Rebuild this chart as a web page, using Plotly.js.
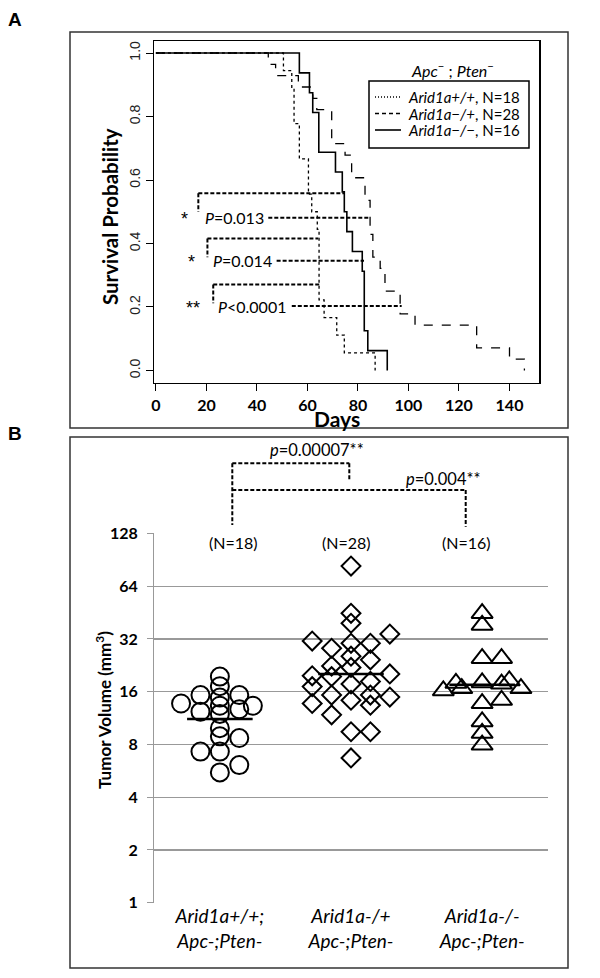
<!DOCTYPE html>
<html><head><meta charset="utf-8">
<script src="https://cdn.plot.ly/plotly-3.0.1.min.js"></script>
<style>html,body{margin:0;padding:0;background:#fff}</style>
</head><body><div id="chart" style="width:600px;height:978px"></div>
<script>
// ---------- Panel A: Kaplan-Meier survival (step data) ----------
const wtDays  = [0, 50.5, 53.8, 54.7, 56.8, 60.4, 61.7, 63.9, 64.6, 66.6, 71.6, 74.6, 86.8];
const wtSurv  = [1, 0.9444, 0.8889, 0.7778, 0.6667, 0.5556, 0.5, 0.4444, 0.2222, 0.1667, 0.1111, 0.0556, 0];
const hetDays = [0, 44.5, 47.4, 56.4, 62.1, 63.7, 69.6, 74.9, 77.5, 82.8, 84.8, 85.9, 88.8, 90.7, 96.7, 102.6, 127, 140, 145.9];
const hetSurv = [1, 0.9643, 0.9286, 0.8929, 0.8571, 0.8214, 0.7143, 0.6786, 0.6071, 0.5357, 0.4286, 0.3571, 0.3214, 0.25, 0.1786, 0.1429, 0.0714, 0.0357, 0];
const homDays = [0, 56.8, 60.8, 62.1, 64.5, 71.1, 73.8, 74.6, 75.6, 77.8, 81.7, 82.5, 83.9, 91.6];
const homSurv = [1, 0.9375, 0.875, 0.8125, 0.6875, 0.625, 0.5625, 0.5, 0.4375, 0.375, 0.3125, 0.125, 0.0625, 0];
const kmNames = ['<i>Arid1a+/+</i>, N=18', '<i>Arid1a\u2212/+</i>, N=28', '<i>Arid1a\u2212/\u2212</i>, N=16'];
const legendTitle = '<i>Apc</i><sup>\u2212</sup> ; <i>Pten</i><sup>\u2212</sup>';
const daysTicks = [0, 20, 40, 60, 80, 100, 120, 140];
const probTicks = [0, 0.2, 0.4, 0.6, 0.8, 1.0];
const probTickText = ['0.0', '0.2', '0.4', '0.6', '0.8', '1.0'];
const pTextsA = ['<i>P</i>=0.013', '<i>P</i>=0.014', '<i>P</i>&lt;0.0001'];
const starsA = ['*', '*', '**'];

// ---------- Panel B: tumour volume ----------
const groupLabels = ['<i>Arid1a+/+;</i><br><i>Apc-;Pten-</i>', '<i>Arid1a-/+</i><br><i>Apc-;Pten-</i>', '<i>Arid1a-/-</i><br><i>Apc-;Pten-</i>'];
const groupN = ['(N=18)', '(N=28)', '(N=16)'];
const wtVol  = [13.7, 15.3, 12.3, 7.28, 19.5, 17.2, 14.8, 13.3, 11.95, 9.9, 8.9, 7.28, 5.54, 15.3, 12.7, 8.7, 6.1, 13.3];
const wtLane = [-2, -1, -1, -1, 0, 0, 0, 0, 0, 0, 0, 0, 0, 1, 1, 1, 1, 1.7];
const hetVol  = [83.3, 44.8, 39.3, 31.1, 19.7, 17.1, 13.7, 28.3, 22.4, 19.5, 15.3, 11.8, 30.2, 25.5, 22.0, 17.7, 14.3, 9.45, 6.7, 30.2, 24.3, 18.3, 15.3, 13.4, 9.45, 34.1, 20.2, 14.9];
const hetLane = [0, 0, 0, -2, -2, -2, -2, -1, -1, -1, -1, -1, 0, 0, 0, 0, 0, 0, 0, 1, 1, 1, 1, 1, 1, 2, 2, 2];
const homVol  = [44.8, 38.4, 24.8, 24.8, 16.2, 17.9, 16.7, 18.0, 17.7, 18.5, 16.7, 13.7, 14.3, 10.8, 9.27, 7.95];
const homLane = [0, 0, 0, 1, -2, -1.35, -1.05, 0, 1, 1.4, 2, 0, 1, 0, 0, 0];
const volTicks = [1, 2, 4, 8, 16, 32, 64, 128];
const pTextsB = ['<i>p</i>=0.00007**', '<i>p</i>=0.004**'];

// ---------- helpers (layout only) ----------
const W = 600, H = 978;
const px = x => x / W, py = y => 1 - y / H;
const laneW = 0.148;
const geoMean = a => Math.pow(2, a.reduce((s, v) => s + Math.log2(v), 0) / a.length);

const traces = [];
const kmStyles = [['dot', 1.3], ['dash', 1.3], ['solid', 1.6]];
[[wtDays, wtSurv], [hetDays, hetSurv], [homDays, homSurv]].forEach((s, i) => traces.push({
  x: s[0], y: s[1], xaxis: 'x', yaxis: 'y', mode: 'lines', name: kmNames[i], showlegend: false,
  line: {shape: 'hv', dash: kmStyles[i][0], width: kmStyles[i][1], color: '#000'}
}));

const groupsB = [[wtVol, wtLane, 'circle', 18], [hetVol, hetLane, 'diamond', 14.5], [homVol, homLane, 'triangle-up', 18.5]];
groupsB.forEach((g, gi) => {
  traces.push({
    x: g[0].map((v, k) => gi + g[1][k] * laneW), y: g[0], xaxis: 'x2', yaxis: 'y2',
    mode: 'markers', showlegend: false, hoverinfo: 'y',
    marker: {symbol: g[2], size: g[3], color: 'rgba(0,0,0,0)', line: {color: '#000', width: 2}}
  });
  const m = geoMean(g[0]);
  traces.push({
    x: [gi - 0.25, gi + 0.25], y: [m, m], xaxis: 'x2', yaxis: 'y2', mode: 'lines',
    showlegend: false, line: {color: '#000', width: 2.5}
  });
});

const shapes = [];
const rect = (x0, y0, x1, y1, c, w) => shapes.push({type: 'rect', xref: 'paper', yref: 'paper',
  x0: px(x0), x1: px(x1), y0: py(y0), y1: py(y1), line: {color: c, width: w}});
rect(70, 32, 568, 428, '#333', 1.5);
rect(70, 437, 568, 968, '#333', 1.5);

// legend for panel A (box, line samples, labels)
rect(369, 81, 529, 148, '#000', 1.5);
const legRows = [97, 113.5, 130];
legRows.forEach((y, i) => shapes.push({type: 'line', xref: 'paper', yref: 'paper',
  x0: px(375), x1: px(401), y0: py(y), y1: py(y),
  line: {color: '#000', width: kmStyles[i][1], dash: ['1px,2px', '4px,3px', 'solid'][i]}}));

const dl = {color: '#000', width: 2, dash: '4px,2px'};
const segA = (x0, y0, x1, y1) => shapes.push({type: 'line', xref: 'x', yref: 'y', x0, y0, x1, y1, line: dl});
segA(16.8, 0.558, 16.8, 0.5); segA(16.8, 0.558, 74.5, 0.558); segA(44.5, 0.481, 84.8, 0.481);
segA(20.4, 0.416, 20.4, 0.357); segA(20.4, 0.416, 64.3, 0.416); segA(47.8, 0.346, 82.4, 0.346);
segA(22.7, 0.271, 22.7, 0.212); segA(22.7, 0.271, 64.7, 0.271); segA(53.8, 0.203, 97.3, 0.203);
const segB = (x0, y0, x1, y1) => shapes.push({type: 'line', xref: 'paper', yref: 'paper',
  x0: px(x0), y0: py(y0), x1: px(x1), y1: py(y1), line: dl});
segB(232.3, 463.3, 232.3, 525); segB(232.3, 463.3, 349.3, 463.3); segB(349.3, 463.3, 349.3, 481);
segB(232.3, 490, 465.7, 490); segB(465.7, 490, 465.7, 526.7);

const ann = [];
const tp = (text, x, y, o) => ann.push(Object.assign({text, x: px(x), y: py(y), xref: 'paper', yref: 'paper',
  xanchor: 'center', yanchor: 'middle', showarrow: false, font: {family: 'Lato', size: 16, color: '#000'}}, o || {}));
tp('<b>A</b>', 15, 19, {font: {family: 'Liberation Sans', size: 19, color: '#000'}});
tp('<b>B</b>', 15, 433, {font: {family: 'Liberation Sans', size: 19, color: '#000'}});
tp('<b>Days</b>', 337, 418, {font: {family: 'Lato', size: 21, color: '#000'}});
tp('<b>Survival Probability</b>', 110, 216, {textangle: -90, font: {family: 'Lato', size: 20.5, color: '#000'}});
tp('<b>Tumor Volume (mm<sup>3</sup>)</b>', 103, 710, {textangle: -90, font: {family: 'Lato', size: 17, color: '#000'}});
tp(legendTitle, 452, 69, {font: {family: 'Lato', size: 16, color: '#000'}});
legRows.forEach((y, i) => tp(kmNames[i], 406, y, {xanchor: 'left', font: {family: 'Lato', size: 15, color: '#000'}}));
[[233.3, 542.7], [346.7, 542.7], [466.7, 542.7]].forEach((p, i) => tp(groupN[i], p[0], p[1]));
tp(pTextsB[0], 316.7, 450, {font: {family: 'Lato', size: 16.5, color: '#000'}});
tp(pTextsB[1], 443.3, 479, {font: {family: 'Lato', size: 16.5, color: '#000'}});

const pPosA = [[18.5, 0.481], [21.7, 0.346], [23.8, 0.203]];
const sPosA = [[11.5, 0.478], [14.2, 0.343], [14.8, 0.198]];
pTextsA.forEach((t, i) => ann.push({text: t, x: pPosA[i][0], y: pPosA[i][1], xref: 'x', yref: 'y',
  xanchor: 'left', yanchor: 'middle', showarrow: false, font: {family: 'Lato', size: 16, color: '#000'}}));
starsA.forEach((t, i) => ann.push({text: t, x: sPosA[i][0], y: sPosA[i][1], xref: 'x', yref: 'y',
  xanchor: 'center', yanchor: 'middle', showarrow: false, font: {family: 'Liberation Sans', size: 18, color: '#000'}}));

const layout = {
  width: W, height: H, margin: {l: 0, r: 0, t: 0, b: 0}, paper_bgcolor: '#fff', plot_bgcolor: '#fff',
  showlegend: false,
  xaxis: {domain: [px(154), px(539.3)], range: [-0.75, 151.8], anchor: 'y', tickvals: daysTicks,
    ticks: 'outside', ticklen: 7, tickcolor: '#000', showline: true, mirror: true, linecolor: '#000', linewidth: 1.3,
    showgrid: false, zeroline: false, tickfont: {family: 'Lato', size: 16, weight: 'bold', color: '#000'}},
  yaxis: {domain: [py(383), py(41)], range: [-0.0394, 1.0378], anchor: 'x', tickvals: probTicks, ticktext: probTickText,
    tickangle: -90, ticks: 'outside', ticklen: 7, tickcolor: '#000', showline: true, mirror: true, linecolor: '#000',
    linewidth: 1.3, showgrid: false, zeroline: false, tickfont: {family: 'Liberation Sans', size: 14, color: '#222'}},
  xaxis2: {domain: [px(154.3), px(547.7)], range: [-0.5, 2.5], anchor: 'y2', tickvals: [0, 1, 2], ticktext: groupLabels,
    ticks: '', showline: false, showgrid: false, zeroline: false,
    tickfont: {family: 'Lato', size: 19, color: '#000'}},
  yaxis2: {domain: [py(902.8), py(533.3)], type: 'log', range: [-0.0005, Math.log10(128) + 0.0005], anchor: 'x2',
    tickvals: volTicks, ticktext: volTicks.map(String), ticks: 'outside', ticklen: 6, tickcolor: '#999',
    showline: true, linecolor: '#999', linewidth: 1.3, showgrid: true, gridcolor: '#999', gridwidth: 1.3,
    zeroline: false, ticklabelstandoff: 6, tickfont: {family: 'Lato', size: 16, weight: 'bold', color: '#000'}},
  shapes, annotations: ann
};
Plotly.newPlot('chart', traces, layout, {staticPlot: true});
</script></body></html>
